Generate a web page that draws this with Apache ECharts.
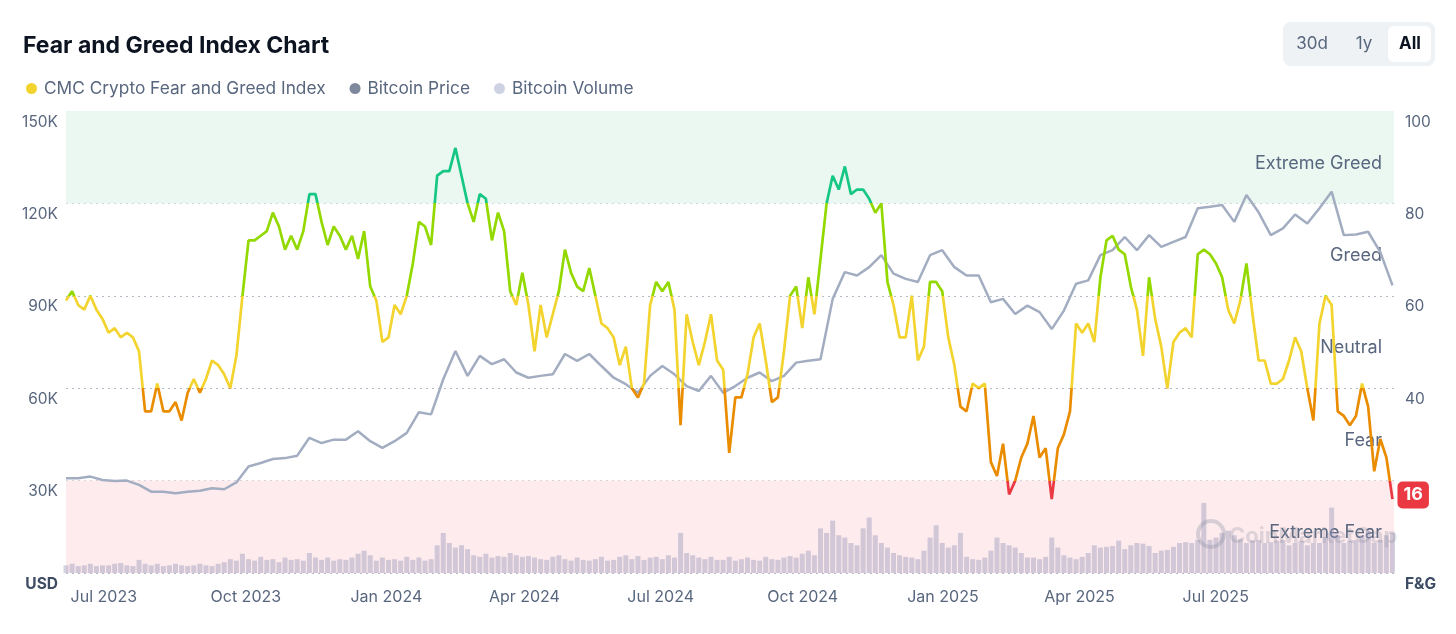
<!DOCTYPE html>
<html lang="en">

<head>
  <meta charset="utf-8">
  <title>Fear and Greed Index Chart</title>
  <script src="https://cdn.jsdelivr.net/npm/echarts@6/dist/echarts.min.js"></script>
  <style>
    body {
      margin: 0;
      background: white;
      overflow: hidden;
    }

    main {
      width: 1456px;
      height: 634px;
    }
  </style>
</head>

<body>
  <main id="chart"></main>

  <script>
    // --- Data.

    // Every series is sampled on a regular grid starting at this day.
    const START_DAY = Date.UTC(2023, 5, 28);
    const END_DAY = Date.UTC(2025, 10, 17);
    const DAY = 86400000;

    // CMC Fear and Greed Index, one value every 4 days.
    const FNG_STEP_DAYS = 4;
    const fngValues = [
      59, 61, 58, 57, 60, 57, 55, 52, 53, 51, 52, 51, 48, 35, 35, 41, 35, 35, 37, 33,
      39, 42, 39, 42, 46, 45, 43, 40, 47, 60, 72, 72, 73, 74, 78, 75, 70, 73, 70, 74,
      82, 82, 76, 71, 75, 73, 70, 73, 68, 74, 62, 59, 50, 51, 58, 56, 60, 67, 76, 75,
      71, 86, 87, 87, 92, 86, 80, 76, 82, 81, 72, 78, 74, 61, 58, 65, 58, 48, 58, 51,
      56, 61, 70, 65, 62, 61, 66, 60, 54, 53, 51, 45, 49, 40, 38, 41, 58, 63, 61, 63,
      57, 32, 56, 50, 45, 50, 56, 46, 44, 26, 38, 38, 43, 51, 54, 46, 37, 38, 48, 60,
      62, 53, 64, 56, 68, 80, 86, 83, 88, 82, 83, 83, 81, 78, 80, 63, 58, 51, 51, 60,
      46, 49, 63, 63, 61, 51, 45, 36, 35, 41, 40, 41, 24, 21, 28, 17, 20, 25, 28, 34,
      25, 27, 16, 27, 30, 35, 54, 52, 54, 50, 64, 72, 73, 70, 69, 62, 57, 47, 64, 55,
      49, 40, 50, 52, 53, 51, 69, 70, 69, 67, 64, 57, 54, 59, 67, 56, 46, 46, 41, 41,
      42, 46, 51, 48, 40, 33, 54, 60, 58, 35, 34, 32, 34, 41, 36, 22, 29, 25, 16
    ];

    // Bitcoin price in thousands of USD, one value every 8 days.
    const PRICE_STEP_DAYS = 8;
    const priceValues = [
      30.8, 30.8, 31.3, 30.2, 29.9, 30.0, 28.6, 26.4, 26.4, 25.9, 26.4, 26.7, 27.5, 27.2, 29.4,
      34.6, 35.7, 37.0, 37.3, 38.1, 43.9, 42.2, 43.3, 43.3, 46.0, 42.8, 40.6, 42.8, 45.5, 52.2,
      51.5, 62.9, 72.1, 64.0, 70.5, 67.8, 69.4, 65.1, 63.4, 64.0, 64.5, 71.1, 68.9, 71.1, 67.2,
      63.4, 61.3, 58.5, 64.0, 67.2, 64.5, 60.7, 59.1, 64.0, 58.5, 60.7, 63.4, 65.1, 62.3, 64.0,
      68.3, 68.9, 69.4, 89.0, 97.7, 96.6, 99.3, 103.2, 97.2, 95.5, 94.5, 103.2, 104.8, 99.3, 96.6,
      96.6, 87.9, 89.0, 84.1, 86.8, 84.7, 79.2, 85.2, 93.9, 95.0, 103.2, 104.8, 109.1, 104.8, 109.7,
      105.9, 107.5, 109.1, 118.4, 118.9, 119.5, 114.0, 122.7, 117.1, 109.7, 111.9, 116.4, 113.5, 118.4, 123.8,
      109.7, 109.9, 110.8, 104.2, 93.4
    ];

    // Bitcoin volume in billions of USD, one value every 4 days.
    const VOLUME_STEP_DAYS = 4;
    const volumeValues = [
      10, 12, 9, 10, 12, 9, 10, 10, 12, 13, 10, 9, 17, 12, 10, 12, 9, 10, 12, 10,
      9, 10, 12, 10, 9, 12, 14, 18, 16, 25, 18, 16, 21, 17, 18, 14, 20, 17, 18, 16,
      26, 20, 17, 20, 16, 18, 17, 20, 25, 29, 23, 16, 20, 17, 18, 16, 21, 17, 20, 16,
      18, 36, 52, 39, 33, 36, 31, 23, 21, 25, 20, 22, 21, 26, 23, 21, 22, 20, 18, 17,
      21, 23, 18, 16, 20, 17, 16, 18, 21, 16, 17, 21, 23, 18, 22, 17, 20, 21, 18, 23,
      20, 52, 26, 23, 20, 18, 21, 17, 17, 21, 16, 18, 20, 17, 16, 21, 18, 17, 20, 22,
      20, 25, 29, 23, 58, 52, 68, 49, 46, 39, 36, 58, 72, 49, 39, 33, 26, 23, 21, 20,
      18, 29, 46, 62, 39, 33, 36, 52, 21, 18, 17, 20, 29, 46, 39, 36, 33, 26, 20, 20,
      18, 21, 46, 33, 23, 20, 18, 21, 26, 36, 33, 34, 35, 42, 31, 36, 39, 38, 35, 26,
      29, 30, 34, 39, 40, 39, 43, 91, 43, 46, 52, 55, 49, 44, 39, 42, 43, 39, 40, 42,
      43, 36, 39, 42, 36, 39, 39, 47, 85, 49, 39, 42, 43, 49, 55, 39, 43, 49, 52
    ];

    // Quarterly ticks on the date axis.
    const xTickDates = [
      '2023-07-01', '2023-10-01', '2024-01-01', '2024-04-01', '2024-07-01',
      '2024-10-01', '2025-01-01', '2025-04-01', '2025-07-01'
    ];
    const xTickLabels = [
      'Jul 2023', 'Oct 2023', 'Jan 2024', 'Apr 2024', 'Jul 2024',
      'Oct 2024', 'Jan 2025', 'Apr 2025', 'Jul 2025'
    ];

    // Sentiment zones, in index units, with their background colour.
    const zoneNames = ['Extreme Fear', 'Fear', 'Neutral', 'Greed', 'Extreme Greed'];
    const zoneLimits = [0, 20, 40, 60, 80, 100];
    const zoneFills = ['#fdebed', 'transparent', 'transparent', 'transparent', '#eaf8f1'];
    const zoneLineColors = ['#ea3943', '#ea8c00', '#f3d42f', '#93d900', '#16c784'];



    // --- Helpers.



    const TEXT_GREY = '#58667e';
    const FONT = 'Inter, "Noto Sans", sans-serif';

    // Turns a value list into [time, value] pairs on a regular day grid.
    function toSeries(values, stepDays) {
      return values.map((v, i) => [START_DAY + i * stepDays * DAY, v]);
    }

    function tickTime(s) {
      const [y, m, d] = s.split('-').map(Number);
      return Date.UTC(y, m - 1, d);
    }

    // The price axis is in USD, the index axis in 0..100, both share gridlines.
    function fngToUsd(v) {
      return v * 1500;
    }



    // --- Echarts options.



    function makeOptions() {
      const tickTimes = xTickDates.map(tickTime);

      const zoneAreas = zoneNames.map((name, i) => [
        {
          name: name,
          yAxis: fngToUsd(zoneLimits[i]),
          itemStyle: { color: zoneFills[i] }
        },
        { yAxis: fngToUsd(zoneLimits[i + 1]) }
      ]);

      return {
        animation: false,
        textStyle: { fontFamily: FONT },

        title: {
          text: 'Fear and Greed Index Chart',
          left: 18,
          top: 30,
          textStyle: { fontFamily: FONT, fontSize: 23, fontWeight: 700, color: '#0d1421' }
        },

        legend: {
          left: 21,
          top: 75,
          icon: 'circle',
          itemWidth: 11,
          itemHeight: 11,
          itemGap: 24,
          selectedMode: false,
          textStyle: { fontFamily: FONT, fontSize: 17.3, color: TEXT_GREY, padding: [0, 0, 0, 2] },
          data: [
            { name: 'CMC Crypto Fear and Greed Index', itemStyle: { color: '#f3d42f' } },
            { name: 'Bitcoin Price', itemStyle: { color: '#7e889c' } },
            { name: 'Bitcoin Volume', itemStyle: { color: '#cdd3e3' } }
          ]
        },

        grid: { left: 66, right: 62, top: 111, bottom: 61 },

        // Dates are plain millisecond values so the quarter ticks can be pinned.
        xAxis: {
          type: 'value',
          min: START_DAY,
          max: END_DAY,
          axisLine: { show: false },
          axisTick: { show: false },
          splitLine: { show: false },
          axisLabel: {
            customValues: tickTimes,
            align: 'left',
            margin: 16,
            fontSize: 16,
            color: TEXT_GREY,
            formatter: v => xTickLabels[tickTimes.indexOf(v)] || ''
          }
        },

        yAxis: [
          {
            type: 'value',
            min: 0,
            max: 150000,
            interval: 30000,
            position: 'left',
            axisLine: { show: false },
            axisTick: { show: false },
            splitLine: { lineStyle: { type: [2, 4], color: '#b4bac6' } },
            axisLabel: {
              margin: 8,
              verticalAlign: 'top',
              padding: [3, 0, 0, 0],
              fontSize: 15.5,
              color: TEXT_GREY,
              formatter: v => v === 0 ? '{unit|USD}' : (v / 1000) + 'K',
              rich: { unit: { fontSize: 15.5, fontWeight: 700, color: '#3d4b63' } }
            }
          },
          {
            type: 'value',
            min: 0,
            max: 100,
            interval: 20,
            position: 'right',
            axisLine: { show: false },
            axisTick: { show: false },
            splitLine: { show: false },
            axisLabel: {
              margin: 11,
              verticalAlign: 'top',
              padding: [3, 0, 0, 0],
              fontSize: 15.5,
              color: TEXT_GREY,
              // 20 sits behind the current-value badge.
              formatter: v => v === 0 ? '{unit|F&G}' : (v === 20 ? '' : String(v)),
              rich: { unit: { fontSize: 15.5, fontWeight: 700, color: '#3d4b63' } }
            }
          },
          {
            // Volume gets its own hidden scale so the bars stay low.
            type: 'value',
            min: 0,
            max: 600,
            show: false
          }
        ],

        visualMap: {
          type: 'piecewise',
          show: false,
          seriesIndex: 2,
          dimension: 1,
          pieces: zoneNames.map((n, i) => ({
            gte: zoneLimits[i],
            lt: i === zoneNames.length - 1 ? 101 : zoneLimits[i + 1],
            color: zoneLineColors[i]
          }))
        },

        series: [
          {
            name: 'Bitcoin Price',
            type: 'line',
            yAxisIndex: 0,
            z: 3,
            data: toSeries(priceValues, PRICE_STEP_DAYS).map(([t, v]) => [t, v * 1000]),
            showSymbol: false,
            color: '#a6b0c3',
            lineStyle: { width: 2.5, color: '#a3adc1' },
            markArea: {
              silent: true,
              z: 1,
              label: {
                show: true,
                position: 'insideRight',
                offset: [-7, 6],
                fontSize: 18,
                color: TEXT_GREY
              },
              data: zoneAreas
            }
          },
          {
            name: 'Bitcoin Volume',
            type: 'bar',
            yAxisIndex: 2,
            z: 2,
            barWidth: 5,
            data: toSeries(volumeValues, VOLUME_STEP_DAYS),
            itemStyle: { color: 'rgba(150, 150, 185, 0.42)' }
          },
          {
            name: 'CMC Crypto Fear and Greed Index',
            type: 'line',
            yAxisIndex: 1,
            z: 4,
            data: toSeries(fngValues, FNG_STEP_DAYS),
            showSymbol: false,
            color: '#f3d42f',
            lineStyle: { width: 2.7 },
            endLabel: {
              show: true,
              distance: 5,
              formatter: p => String(p.value[1]),
              color: '#fff',
              fontSize: 18,
              fontWeight: 700,
              backgroundColor: '#ea3943',
              borderRadius: 5,
              padding: [5, 6, 4, 6],
              offset: [0, -4]
            }
          }
        ],

        // Range buttons and the watermark are decoration only.
        graphic: [
          {
            type: 'rect',
            shape: { x: 1283, y: 22, width: 152, height: 44, r: 8 },
            style: { fill: '#eff2f5' }
          },
          {
            type: 'rect',
            shape: { x: 1388, y: 26, width: 43, height: 36, r: 6 },
            style: { fill: '#ffffff' }
          },
          {
            type: 'text',
            x: 1312, y: 44,
            style: { text: '30d', fill: TEXT_GREY, fontSize: 17, fontFamily: FONT, align: 'center', verticalAlign: 'middle' }
          },
          {
            type: 'text',
            x: 1364, y: 44,
            style: { text: '1y', fill: TEXT_GREY, fontSize: 17, fontFamily: FONT, align: 'center', verticalAlign: 'middle' }
          },
          {
            type: 'text',
            x: 1410, y: 44,
            style: { text: 'All', fill: '#0d1421', fontSize: 17, fontWeight: 700, fontFamily: FONT, align: 'center', verticalAlign: 'middle' }
          },
          {
            type: 'circle',
            z: 10,
            shape: { cx: 1211, cy: 534, r: 13 },
            style: { fill: 'none', stroke: 'rgba(130, 135, 155, 0.3)', lineWidth: 4 }
          },
          {
            type: 'text',
            z: 10,
            x: 1229, y: 536,
            style: { text: 'CoinMarketCap', fill: 'rgba(130, 135, 155, 0.25)', fontSize: 22, fontWeight: 700, fontFamily: FONT, verticalAlign: 'middle' }
          }
        ]
      };
    }



    // --- Main.



    const chart = echarts.init(document.getElementById('chart'));
    chart.setOption(makeOptions());
  </script>
</body>

</html>
